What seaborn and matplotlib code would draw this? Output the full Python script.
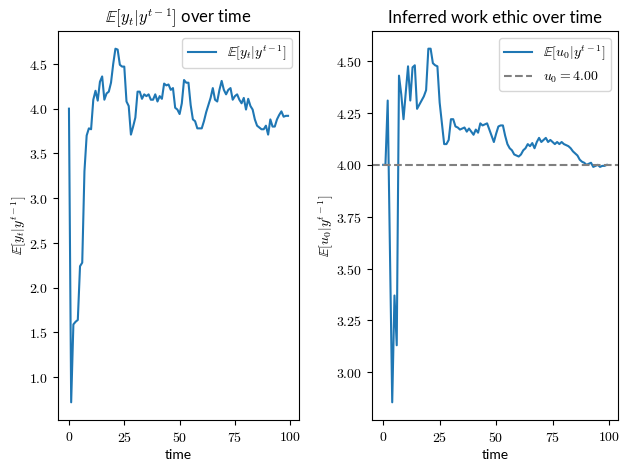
import numpy as np
import matplotlib
matplotlib.use('Agg')
import matplotlib.pyplot as plt
from matplotlib.ticker import FormatStrFormatter
import seaborn as sns

# latex-ish look without a latex install
plt.rcParams['mathtext.fontset'] = 'cm'
plt.rcParams['font.family'] = ['Lato', 'DejaVu Sans']

# =========================
# DATA
# =========================
time = np.arange(100)

expected_y = [
    4.00, 0.72, 1.59, 1.62, 1.64, 2.24, 2.28, 3.30, 3.70, 3.78,
    3.77, 4.10, 4.20, 4.09, 4.30, 4.36, 4.10, 4.17, 4.19, 4.29,
    4.50, 4.67, 4.66, 4.49, 4.47, 4.47, 4.08, 4.03, 3.71, 3.80,
    3.90, 4.19, 4.19, 4.11, 4.16, 4.14, 4.16, 4.10, 4.10, 4.16,
    4.08, 4.14, 4.11, 4.28, 4.26, 4.27, 4.21, 4.23, 4.01, 3.99,
    3.94, 4.06, 4.32, 4.29, 4.29, 4.04, 3.88, 3.86, 3.78, 3.78,
    3.78, 3.86, 3.96, 4.04, 4.12, 4.23, 4.10, 4.08, 4.21, 4.31,
    4.21, 4.16, 4.21, 4.23, 4.10, 4.14, 4.16, 4.10, 4.06, 4.12,
    3.99, 4.11, 4.03, 3.99, 3.88, 3.81, 3.79, 3.77, 3.77, 3.81,
    3.71, 3.88, 3.80, 3.80, 3.88, 3.93, 3.97, 3.91, 3.92, 3.92,
]

expected_u0 = [
    4.00, 4.00, 4.31, 3.58, 2.855, 3.37, 3.13, 4.43, 4.34, 4.22,
    4.35, 4.475, 4.31, 4.47, 4.48, 4.27, 4.29, 4.31, 4.33, 4.36,
    4.56, 4.56, 4.49, 4.48, 4.475, 4.30, 4.20, 4.10, 4.10, 4.12,
    4.22, 4.22, 4.185, 4.18, 4.17, 4.175, 4.18, 4.16, 4.175, 4.16,
    4.145, 4.17, 4.155, 4.20, 4.19, 4.195, 4.20, 4.17, 4.14, 4.11,
    4.15, 4.185, 4.19, 4.19, 4.14, 4.10, 4.08, 4.07, 4.05, 4.045,
    4.04, 4.05, 4.07, 4.08, 4.10, 4.09, 4.105, 4.08, 4.11, 4.13,
    4.11, 4.12, 4.13, 4.11, 4.12, 4.11, 4.10, 4.11, 4.10, 4.11,
    4.10, 4.095, 4.09, 4.08, 4.065, 4.055, 4.045, 4.025, 4.015, 4.01,
    4.00, 4.005, 4.01, 3.99, 3.995, 4.00, 3.99, 3.995, 3.995, 4.00,
]

u0_true = 4.00

# =========================
# PLOT
# =========================
fig, (ax1, ax2) = plt.subplots(1, 2, figsize=(6.29, 4.7), dpi=100)

# left: predictive mean of y
sns.lineplot(x=time, y=expected_y, ax=ax1, label=r'$\mathbb{E}[y_t|y^{t-1}]$')
ax1.set_title(r'$\mathbb{E}[y_t|y^{t-1}]$ over time')
ax1.set_xlabel('time')
ax1.set_ylabel(r'$\mathbb{E}[y_t|y^{t-1}]$', labelpad=0)
ax1.yaxis.set_major_formatter(FormatStrFormatter(r'$%.1f$'))
ax1.xaxis.set_major_formatter(FormatStrFormatter(r'$%d$'))
ax1.legend(loc='upper right')

# right: posterior mean of u0
sns.lineplot(x=time, y=expected_u0, ax=ax2, label=r'$\mathbb{E}[u_0|y^{t-1}]$')
ax2.axhline(u0_true, color='grey', ls='--', label=rf'$u_0 = {u0_true:.2f}$')
ax2.set_title('Inferred work ethic over time')
ax2.set_xlabel('time')
ax2.set_ylabel(r'$\mathbb{E}[u_0|y^{t-1}]$', labelpad=0)
ax2.yaxis.set_major_formatter(FormatStrFormatter(r'$%.2f$'))
ax2.xaxis.set_major_formatter(FormatStrFormatter(r'$%d$'))
ax2.legend(loc='upper right')

# panel placement as in the reference
W, H = 629, 470
ax1.set_position([58 / W, 1 - 420 / H, 241 / W, 389 / H])
ax2.set_position([372 / W, 1 - 420 / H, 246 / W, 389 / H])

plt.savefig('out.png', dpi=100)
